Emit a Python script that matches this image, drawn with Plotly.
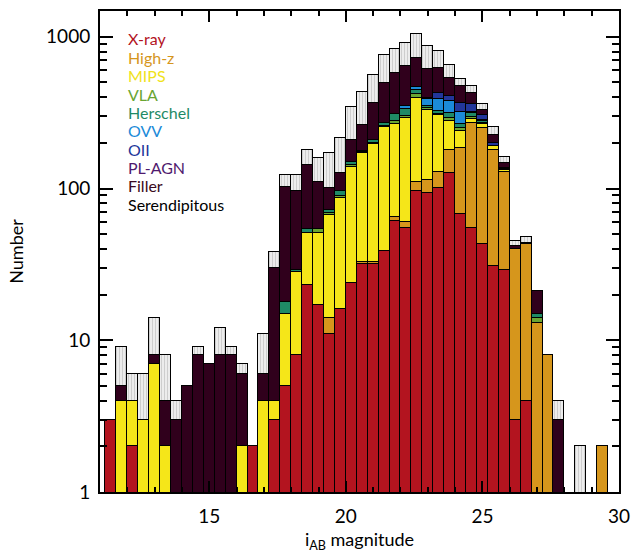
import plotly.graph_objects as go

# Bin centres (0.4 mag bins from 11.2 to 29.6)
mag_bins = [11.4, 11.8, 12.2, 12.6, 13.0, 13.4, 13.8, 14.2, 14.6, 15.0,
            15.4, 15.8, 16.2, 16.6, 17.0, 17.4, 17.8, 18.2, 18.6, 19.0,
            19.4, 19.8, 20.2, 20.6, 21.0, 21.4, 21.8, 22.2, 22.6, 23.0,
            23.4, 23.8, 24.2, 24.6, 25.0, 25.4, 25.8, 26.2, 26.6, 27.0,
            27.4, 27.8, 28.2, 28.6, 29.0, 29.4]

# Counts per selection class in each bin
xray = [3, 0, 2, 0, 0, 0, 0, 0, 0, 0, 0, 0, 0, 2, 0, 3, 5, 8, 23, 17,
        11, 16, 24, 32, 32, 39, 61, 55, 96, 93, 101, 127, 68, 55, 43, 31, 29, 3, 4, 0,
        0, 0, 0, 0, 0, 0]
highz = [0, 0, 0, 0, 0, 0, 0, 0, 0, 0, 0, 0, 0, 0, 0, 0, 0, 0, 0, 0,
         3, 0, 0, 1, 1, 0, 4, 5, 15, 21, 28, 52, 117, 216, 208, 148, 100, 37, 39, 13,
         8, 0, 0, 0, 0, 2]
mips = [0, 4, 2, 3, 7, 2, 0, 0, 0, 0, 0, 0, 2, 0, 4, 1, 10, 20, 28, 34,
        53, 71, 114, 139, 164, 214, 201, 231, 287, 216, 174, 101, 53, 17, 14, 12, 3, 0, 0, 0,
        0, 0, 0, 0, 0, 0]
vla = [0, 0, 0, 0, 0, 0, 0, 0, 0, 0, 0, 0, 0, 0, 0, 0, 0, 0, 0, 3,
       2, 2, 4, 3, 4, 6, 14, 8, 20, 8, 7, 12, 14, 10, 5, 0, 2, 0, 0, 1,
       0, 0, 0, 0, 0, 0]
herschel = [0, 0, 0, 0, 0, 0, 0, 0, 0, 0, 0, 0, 0, 0, 0, 0, 3, 1, 3, 0,
            3, 7, 8, 3, 8, 10, 30, 35, 27, 14, 14, 21, 14, 15, 8, 0, 2, 0, 0, 1,
            0, 0, 0, 0, 0, 0]
ovv = [0, 0, 0, 0, 0, 0, 0, 0, 0, 0, 0, 0, 0, 0, 0, 0, 0, 0, 0, 0,
       0, 0, 0, 0, 0, 2, 0, 16, 23, 40, 67, 64, 52, 5, 4, 0, 0, 0, 0, 0,
       0, 0, 0, 0, 0, 0]
oii = [0, 0, 0, 0, 0, 0, 0, 0, 0, 0, 0, 0, 0, 0, 0, 0, 0, 0, 0, 0,
       0, 0, 0, 0, 0, 0, 0, 0, 0, 5, 36, 33, 46, 40, 23, 9, 0, 0, 0, 0,
       0, 0, 0, 0, 0, 0]
plagn = [0] * 46
filler = [0, 1, 0, 0, 1, 2, 3, 5, 8, 7, 8, 8, 4, 0, 2, 26, 85, 67, 89, 57,
          29, 31, 60, 86, 156, 228, 264, 292, 252, 213, 192, 128, 113, 67, 25, 24, 12, 2, 1, 6,
          0, 3, 0, 0, 0, 0]
serendip = [0, 4, 2, 3, 6, 4, 1, 0, 1, 0, 4, 1, 1, 0, 5, 8, 19, 26, 37, 47,
            70, 88, 134, 166, 195, 258, 255, 270, 330, 262, 186, 113, 51, 50, 32, 32, 14, 3, 4, 0,
            0, 1, 0, 2, 0, 0]

series = [
    ("X-ray", xray, "#b3141f"),
    ("High-z", highz, "#d6961c"),
    ("MIPS", mips, "#f5e619"),
    ("VLA", vla, "#6aa532"),
    ("Herschel", herschel, "#1f8a66"),
    ("OVV", ovv, "#1b8ad8"),
    ("OII", oii, "#22369a"),
    ("PL-AGN", plagn, "#4f1a6e"),
    ("Filler", filler, "#30001c"),
    ("Serendipitous", serendip, "#e8e8e8"),
]
label_colors = ["#b3141f", "#d6961c", "#f0e21a", "#6aa532", "#1f8a66",
                "#1b8ad8", "#22369a", "#4f1a6e", "#3a0a20", "#000000"]

fig = go.Figure()
for name, vals, col in series:
    y = [v if v > 0 else None for v in vals]
    marker = dict(color=col, line=dict(color="black", width=1.3))
    if name == "Serendipitous":
        marker["pattern"] = dict(shape="|", fgcolor="#9a9a9a", bgcolor="#ececec",
                                 size=3, solidity=0.25)
    fig.add_trace(go.Bar(x=mag_bins, y=y, name=name, width=0.4,
                         marker=marker, showlegend=False))

# Coloured class labels in the upper-left corner
for i, ((name, _, _), lc) in enumerate(zip(series, label_colors)):
    fig.add_annotation(xref="paper", yref="paper", x=0.051, y=0.942 - i * 0.0382,
                       text=name, showarrow=False, xanchor="left", yanchor="middle",
                       font=dict(family="Lato", size=16, color=lc))

axis_common = dict(showline=True, linecolor="black", linewidth=2, mirror="ticks",
                   ticks="inside", tickcolor="black", tickwidth=1.5,
                   showgrid=False, zeroline=False,
                   tickfont=dict(family="Lato", size=19, color="black"))

fig.update_layout(
    width=639, height=556,
    margin=dict(l=100, r=12, t=9, b=63),
    plot_bgcolor="white", paper_bgcolor="white",
    barmode="stack", bargap=0,
    xaxis=dict(range=[11, 30], tickvals=[15, 20, 25, 30], ticklen=11,
               minor=dict(dtick=1, tick0=11, ticks="inside", ticklen=5,
                          tickcolor="black", showgrid=False),
               title=dict(text="i<sub>AB</sub> magnitude", standoff=8,
                          font=dict(family="Lato", size=18, color="black")),
               ticklabelstandoff=6,
               **axis_common),
    yaxis=dict(type="log", range=[0, 3.17], tickvals=[1, 10, 100, 1000],
               ticktext=["1", "10", "100", "1000"], ticklen=13,
               minor=dict(dtick="D1", ticks="inside", ticklen=7,
                          tickcolor="black", showgrid=False),
               title=dict(text="Number", standoff=18,
                          font=dict(family="Lato", size=18, color="black")),
               ticklabelstandoff=4,
               **axis_common),
)

fig.write_html("out.html")
